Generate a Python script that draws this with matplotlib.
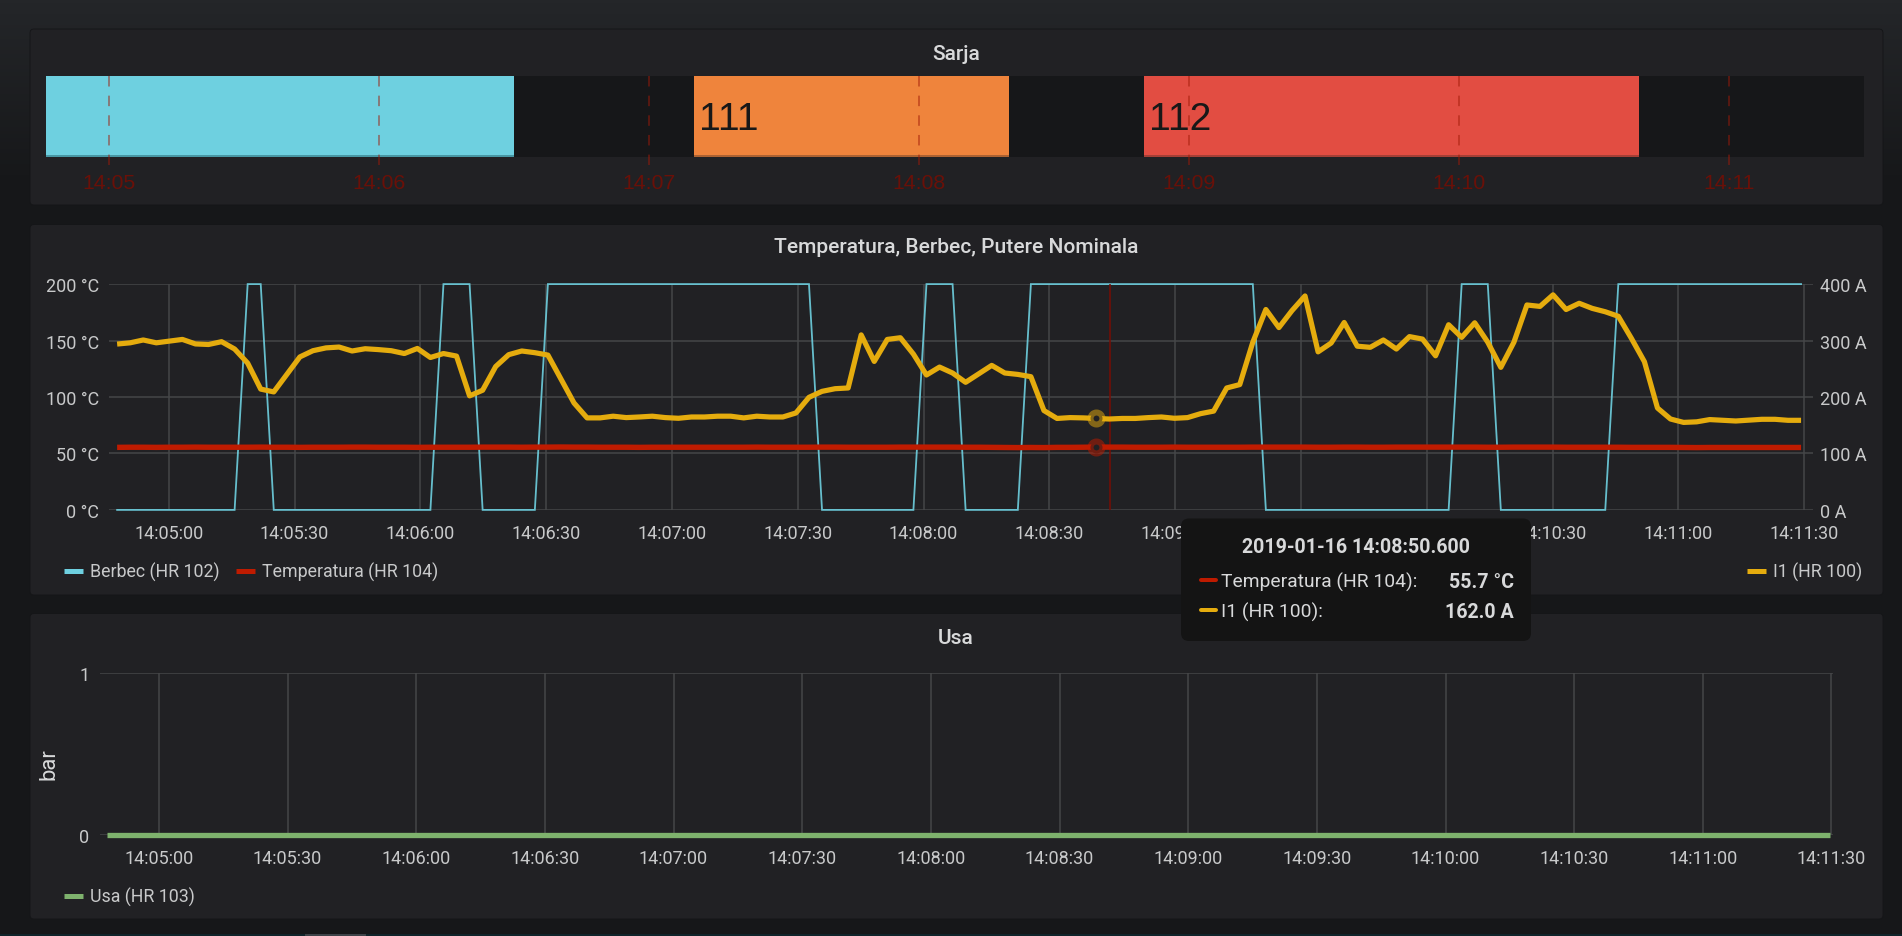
import numpy as np
import matplotlib
matplotlib.use("Agg")
import matplotlib.pyplot as plt
from matplotlib.lines import Line2D
from matplotlib.patches import FancyBboxPatch, Rectangle
from matplotlib.transforms import blended_transform_factory

# ---------- data ----------
SAMPLE_START = -12.3   # seconds relative to 14:05:00
SAMPLE_STEP = 3.113

I1_HR100 = [
    293.8, 296, 301, 296, 299, 302, 294, 293, 298, 285, 260, 214, 209, 240, 271, 282, 287, 288.5, 281.5, 285.5,
    284, 282, 277, 286, 270, 277, 272.5, 202, 212, 254, 275, 281.5, 278.5,
    274.3, 232, 189.4, 163, 163, 166, 163.5, 164.6, 166, 163.5, 162.3, 164.6, 164.6, 166, 166, 163, 166, 164.6,
    164.6, 171.7, 199.4, 210, 214.7, 216, 310, 263, 302, 305, 276, 239, 253, 242.5, 226,
    241, 256, 242.5, 240, 236, 176, 162, 163.5, 163, 162, 161, 162, 162, 163.5, 164.6, 162.3, 163.5, 170.5,
    175, 216, 222, 297, 355, 323, 353, 379, 280, 295.6, 332, 290, 288, 301, 285,
    307, 302.6, 273, 328, 305.6, 331.5, 297, 252.5, 297, 363, 360.5, 381, 355, 366, 357, 351, 343, 304, 262.5,
    180.5, 161, 155, 156, 160, 158.7, 157.5, 159, 160.5, 160.5, 158.7, 158.7,
]
BERBEC_HR102 = [
    0, 0, 0, 0, 0, 0, 0, 0, 0, 0,
    200, 200,
    0, 0, 0, 0, 0, 0, 0, 0, 0, 0, 0, 0, 0,
    200, 200, 200,
    0, 0, 0, 0, 0,
    200, 200, 200, 200, 200, 200, 200, 200, 200, 200, 200, 200, 200, 200, 200, 200, 200, 200, 200, 200, 200,
    0, 0, 0, 0, 0, 0, 0, 0,
    200, 200, 200,
    0, 0, 0, 0, 0,
    200, 200, 200, 200, 200, 200, 200, 200, 200, 200, 200, 200, 200, 200, 200, 200, 200, 200,
    0, 0, 0, 0, 0, 0, 0, 0, 0, 0, 0, 0, 0, 0, 0,
    200, 200, 200,
    0, 0, 0, 0, 0, 0, 0, 0, 0,
    200, 200, 200, 200, 200, 200, 200, 200, 200, 200, 200, 200, 200, 200, 200,
]
TEMPERATURA_HR104 = [
    55.4, 55.5, 55.5, 55.4, 55.5, 55.5, 55.6, 55.5, 55.5, 55.5, 55.5, 55.6, 55.5,
    55.5, 55.4, 55.5, 55.5, 55.5, 55.6, 55.6, 55.5, 55.5, 55.5, 55.4, 55.5, 55.5,
    55.5, 55.5, 55.6, 55.6, 55.6, 55.5, 55.6, 55.6, 55.7, 55.6, 55.6, 55.5, 55.5,
    55.5, 55.4, 55.5, 55.5, 55.5, 55.5, 55.5, 55.5, 55.5, 55.5, 55.6, 55.5, 55.5,
    55.5, 55.5, 55.6, 55.6, 55.5, 55.5, 55.5, 55.5, 55.6, 55.6, 55.6, 55.6, 55.6,
    55.5, 55.5, 55.4, 55.3, 55.2, 55.3, 55.2, 55.4, 55.4, 55.5, 55.7, 55.6, 55.6,
    55.5, 55.5, 55.5, 55.6, 55.5, 55.5, 55.5, 55.5, 55.5, 55.6, 55.6, 55.6, 55.6,
    55.6, 55.5, 55.5, 55.6, 55.6, 55.5, 55.5, 55.6, 55.6, 55.6, 55.6, 55.6, 55.6,
    55.6, 55.5, 55.5, 55.6, 55.6, 55.6, 55.6, 55.5, 55.5, 55.5, 55.5, 55.5, 55.4,
    55.4, 55.4, 55.4, 55.3, 55.2, 55.3, 55.3, 55.3, 55.3, 55.3, 55.3, 55.3, 55.3,
]
USA_HR103 = [0] * 130

SARJA_START = [-14, 129.9, 230]
SARJA_END = [89.9, 200, 340]
SARJA_COLOR = ["#6ED0E0", "#EF843C", "#E24D42"]
SARJA_EDGE = ["#3F8A96", "#9C5A30", "#963C34"]
SARJA_TEXT = ["", "111", "112"]
SARJA_TICKS = [0, 60, 120, 180, 240, 300, 360]
SARJA_LABELS = ["14:05", "14:06", "14:07", "14:08", "14:09", "14:10", "14:11"]

TIME_TICKS = [0, 30, 60, 90, 120, 150, 180, 210, 240, 270, 300, 330, 360, 390]
TIME_LABELS = ["14:05:00", "14:05:30", "14:06:00", "14:06:30", "14:07:00", "14:07:30", "14:08:00",
               "14:08:30", "14:09:00", "14:09:30", "14:10:00", "14:10:30", "14:11:00", "14:11:30"]
TEMP_TICKS = [0, 50, 100, 150, 200]
TEMP_LABELS = ["0 °C", "50 °C", "100 °C", "150 °C", "200 °C"]
AMP_TICKS = [0, 100, 200, 300, 400]
AMP_LABELS = ["0 A", "100 A", "200 A", "300 A", "400 A"]
HOVER_INDEX = 75
HOVER_TIME = 224.4

# ---------- style ----------
W, H = 1902, 937
PX = 0.72
PANEL = "#212124"
PAGE = "#161719"
GRID = "#464749"
TXT = "#C8C9CA"
TITLE = "#D8D9DA"
YEL, RED, BLU, GRN = "#E5AC0E", "#BF1B00", "#6ED0E0", "#7EB26D"
FS = 18 * PX
LEG = 17.7 * PX
TIP = 19.3 * PX

plt.rcParams["font.family"] = ["Roboto", "DejaVu Sans"]
fig = plt.figure(figsize=(W / 100, H / 100), dpi=100, facecolor=PAGE)


def ax_px(l, t, r, b, **kw):
    return fig.add_axes([l / W, 1 - b / H, (r - l) / W, (b - t) / H], **kw)


t = SAMPLE_START + np.arange(len(I1_HR100)) * SAMPLE_STEP

# ---------- background ----------
bg = ax_px(0, 0, W, H, zorder=-5)
grad = np.linspace(0, 1, 256)[:, None]
c0, c1 = np.array([0x24, 0x26, 0x29]), np.array([0x16, 0x17, 0x19])
img = (c0 + (c1 - c0) * np.clip(grad * 5, 0, 1)) / 255
bg.imshow(img.reshape(256, 1, 3), extent=(0, W, H, 0), aspect="auto", zorder=0)
bg.set_xlim(0, W)
bg.set_ylim(H, 0)
bg.axis("off")
for top, bot in [(30, 206), (225.5, 596), (614.5, 920)]:
    bg.add_patch(FancyBboxPatch((30, top), 1853, bot - top, boxstyle="round,pad=0,rounding_size=4",
                                fc=PANEL, ec="#141517", lw=0.6, zorder=1))
bg.add_patch(Rectangle((0, 935), W, 2, fc="#10242A", ec="none", zorder=1))
bg.add_patch(Rectangle((305, 935), 61, 2, fc="#3D4348", ec="none", zorder=2))
for x, y, s in [(956, 54, "Sarja"), (956, 247.5, "Temperatura, Berbec, Putere Nominala"), (956, 638.5, "Usa")]:
    bg.text(x, y, s, color=TITLE, fontsize=21 * PX, fontweight=500, ha="center", va="center", zorder=3)

# ---------- Sarja ----------
a1 = ax_px(46, 76.7, 1864, 157.7)
a1.set_xlim(-14, 390)
a1.set_ylim(0, 1)
a1.set_facecolor(PAGE)
for s in a1.spines.values():
    s.set_visible(False)
a1.bar(SARJA_START, 1, width=np.array(SARJA_END) - np.array(SARJA_START), align="edge", color=SARJA_COLOR, zorder=1)
a1.hlines([0.012] * 3, SARJA_START, SARJA_END, colors=SARJA_EDGE, lw=1.6 * PX, zorder=2)
for x, s in zip(SARJA_START, SARJA_TEXT):
    a1.text(x + 1.1, 0.47, s, color="#181818", family="Liberation Sans", fontsize=39 * PX, ha="left", va="center", zorder=3)
a1.set_yticks([])
a1.set_xticks(SARJA_TICKS)
a1.set_xticklabels(SARJA_LABELS, family="Liberation Sans", fontsize=21.3 * PX, color="#6A1008")
a1.tick_params(axis="x", length=0, pad=16 * PX)
a1.vlines(SARJA_TICKS, 1, -8 / 81, transform=blended_transform_factory(a1.transData, a1.transAxes),
          colors="#A01A08", alpha=0.62, lw=1.5 * PX, linestyles=[(0, (7.0, 6.1))], clip_on=False, zorder=4)

# ---------- Temperatura, Berbec, Putere ----------
s2 = lambda x: (x - 168.7) / 125.8 * 30
a2 = ax_px(109.4, 285.1, 1813, 510.9)
a2.set_xlim(s2(109.4), s2(1813))
a2.set_ylim(0, 200)
a2.set_facecolor("none")
for s in a2.spines.values():
    s.set_visible(False)
a2.set_xticks(TIME_TICKS)
a2.set_xticklabels(TIME_LABELS, fontsize=FS, color=TXT)
a2.set_yticks(TEMP_TICKS)
a2.set_yticklabels(TEMP_LABELS, fontsize=FS, color=TXT)
a2.tick_params(axis="x", length=0, pad=13.8 * PX)
a2.tick_params(axis="y", length=0, pad=10 * PX)
a2.grid(True, color=GRID, lw=1.5 * PX, zorder=0)
a2.set_axisbelow(True)
a2.plot(t, BERBEC_HR102, color=BLU, lw=1.8 * PX, clip_on=False, zorder=2, solid_joinstyle="miter", alpha=0.9)
a2.axvline(HOVER_TIME, color="#7A0D04", lw=1.5 * PX, zorder=3)
a2.plot(t, TEMPERATURA_HR104, color=RED, lw=5.4 * PX, clip_on=False, zorder=4, solid_capstyle="butt")
a2.plot([t[HOVER_INDEX]], [TEMPERATURA_HR104[HOVER_INDEX]], "o", mfc=PANEL, mec=(0.749, 0.106, 0, 0.5), mew=6 * PX,
        ms=12 * PX, zorder=5, clip_on=False)

a2r = a2.twinx()
a2r.set_ylim(0, 400)
a2r.set_facecolor("none")
for s in a2r.spines.values():
    s.set_visible(False)
a2r.set_yticks(AMP_TICKS)
a2r.set_yticklabels(AMP_LABELS, fontsize=FS, color=TXT)
a2r.tick_params(axis="y", length=0, pad=7 * PX)
a2r.plot(t, I1_HR100, color=YEL, lw=5.2 * PX, clip_on=False, zorder=4, solid_capstyle="butt", solid_joinstyle="round")
a2r.plot([t[HOVER_INDEX]], [I1_HR100[HOVER_INDEX]], "o", mfc=PANEL, mec=(0.898, 0.675, 0.055, 0.5), mew=6 * PX,
         ms=12 * PX, zorder=5, clip_on=False)

# ---------- Usa ----------
s3 = lambda x: (x - 158.9) / 128.66 * 30
a3 = ax_px(99.5, 674, 1832.5, 836)
a3.set_xlim(s3(99.5), s3(1832.5))
a3.set_ylim(0, 1)
a3.set_facecolor("none")
for s in a3.spines.values():
    s.set_visible(False)
a3.set_xticks(TIME_TICKS)
a3.set_xticklabels(TIME_LABELS, fontsize=FS, color=TXT)
a3.set_yticks([0, 1])
a3.set_yticklabels(["0", "1"], fontsize=FS, color=TXT)
a3.tick_params(axis="x", length=0, pad=14.5 * PX)
a3.tick_params(axis="y", length=0, pad=10 * PX)
a3.grid(True, color=GRID, lw=1.5 * PX)
a3.set_axisbelow(True)
a3.plot(t + 0.3, USA_HR103, color=GRN, lw=5.3 * PX, clip_on=False, solid_capstyle="butt", zorder=3)
a3.set_ylabel("bar", fontsize=22 * PX, color=TITLE, va="center", ha="center")
a3.yaxis.set_label_coords((48.5 - 99.5) / (1832.5 - 99.5), (836 - 764) / (836 - 674))

# ---------- legends ----------
def legend(x, y, items, colsp=0.9):
    hs = [Line2D([], [], color=c, lw=5 * PX, solid_capstyle="butt") for c, _ in items]
    lg = fig.legend(hs, [n for _, n in items], loc="center left", bbox_to_anchor=(x / W, 1 - y / H),
                    ncol=len(items), frameon=False, fontsize=LEG, labelcolor=TXT, borderpad=0, borderaxespad=0,
                    handlelength=1.08, handletextpad=0.39, columnspacing=colsp)
    return lg


legend(64, 572.5, [(BLU, "Berbec (HR 102)"), (RED, "Temperatura (HR 104)")])
legend(1747, 572.5, [(YEL, "I1 (HR 100)")])
legend(64, 897.5, [(GRN, "Usa (HR 103)")])

# ---------- tooltip ----------
ov = ax_px(0, 0, W, H, zorder=10)
ov.set_xlim(0, W)
ov.set_ylim(H, 0)
ov.axis("off")
ov.patch.set_alpha(0)
ov.add_patch(FancyBboxPatch((1181, 519.5), 350, 122.5, boxstyle="round,pad=0,rounding_size=8",
                            fc="#141414", ec="none", zorder=1))
ov.text(1356, 547.5, "2019-01-16 14:08:50.600", color=TITLE, fontsize=19.6 * PX, fontweight="bold", ha="center", va="center", zorder=2)
for y, c, n, v in [(582.5, RED, "Temperatura (HR 104):", "55.7 °C"), (612.5, YEL, "I1 (HR 100):", "162.0 A")]:
    ov.add_line(Line2D([1200.7, 1215.5], [y - 2, y - 2], color=c, lw=4 * PX, zorder=2, solid_capstyle="round"))
    ov.text(1221, y, n, color=TITLE, fontsize=TIP, ha="left", va="center", zorder=2)
    ov.text(1514, y, v, color=TITLE, fontsize=19.6 * PX, fontweight="bold", ha="right", va="center", zorder=2)

fig.savefig("out.png", dpi=100, facecolor=fig.get_facecolor())
